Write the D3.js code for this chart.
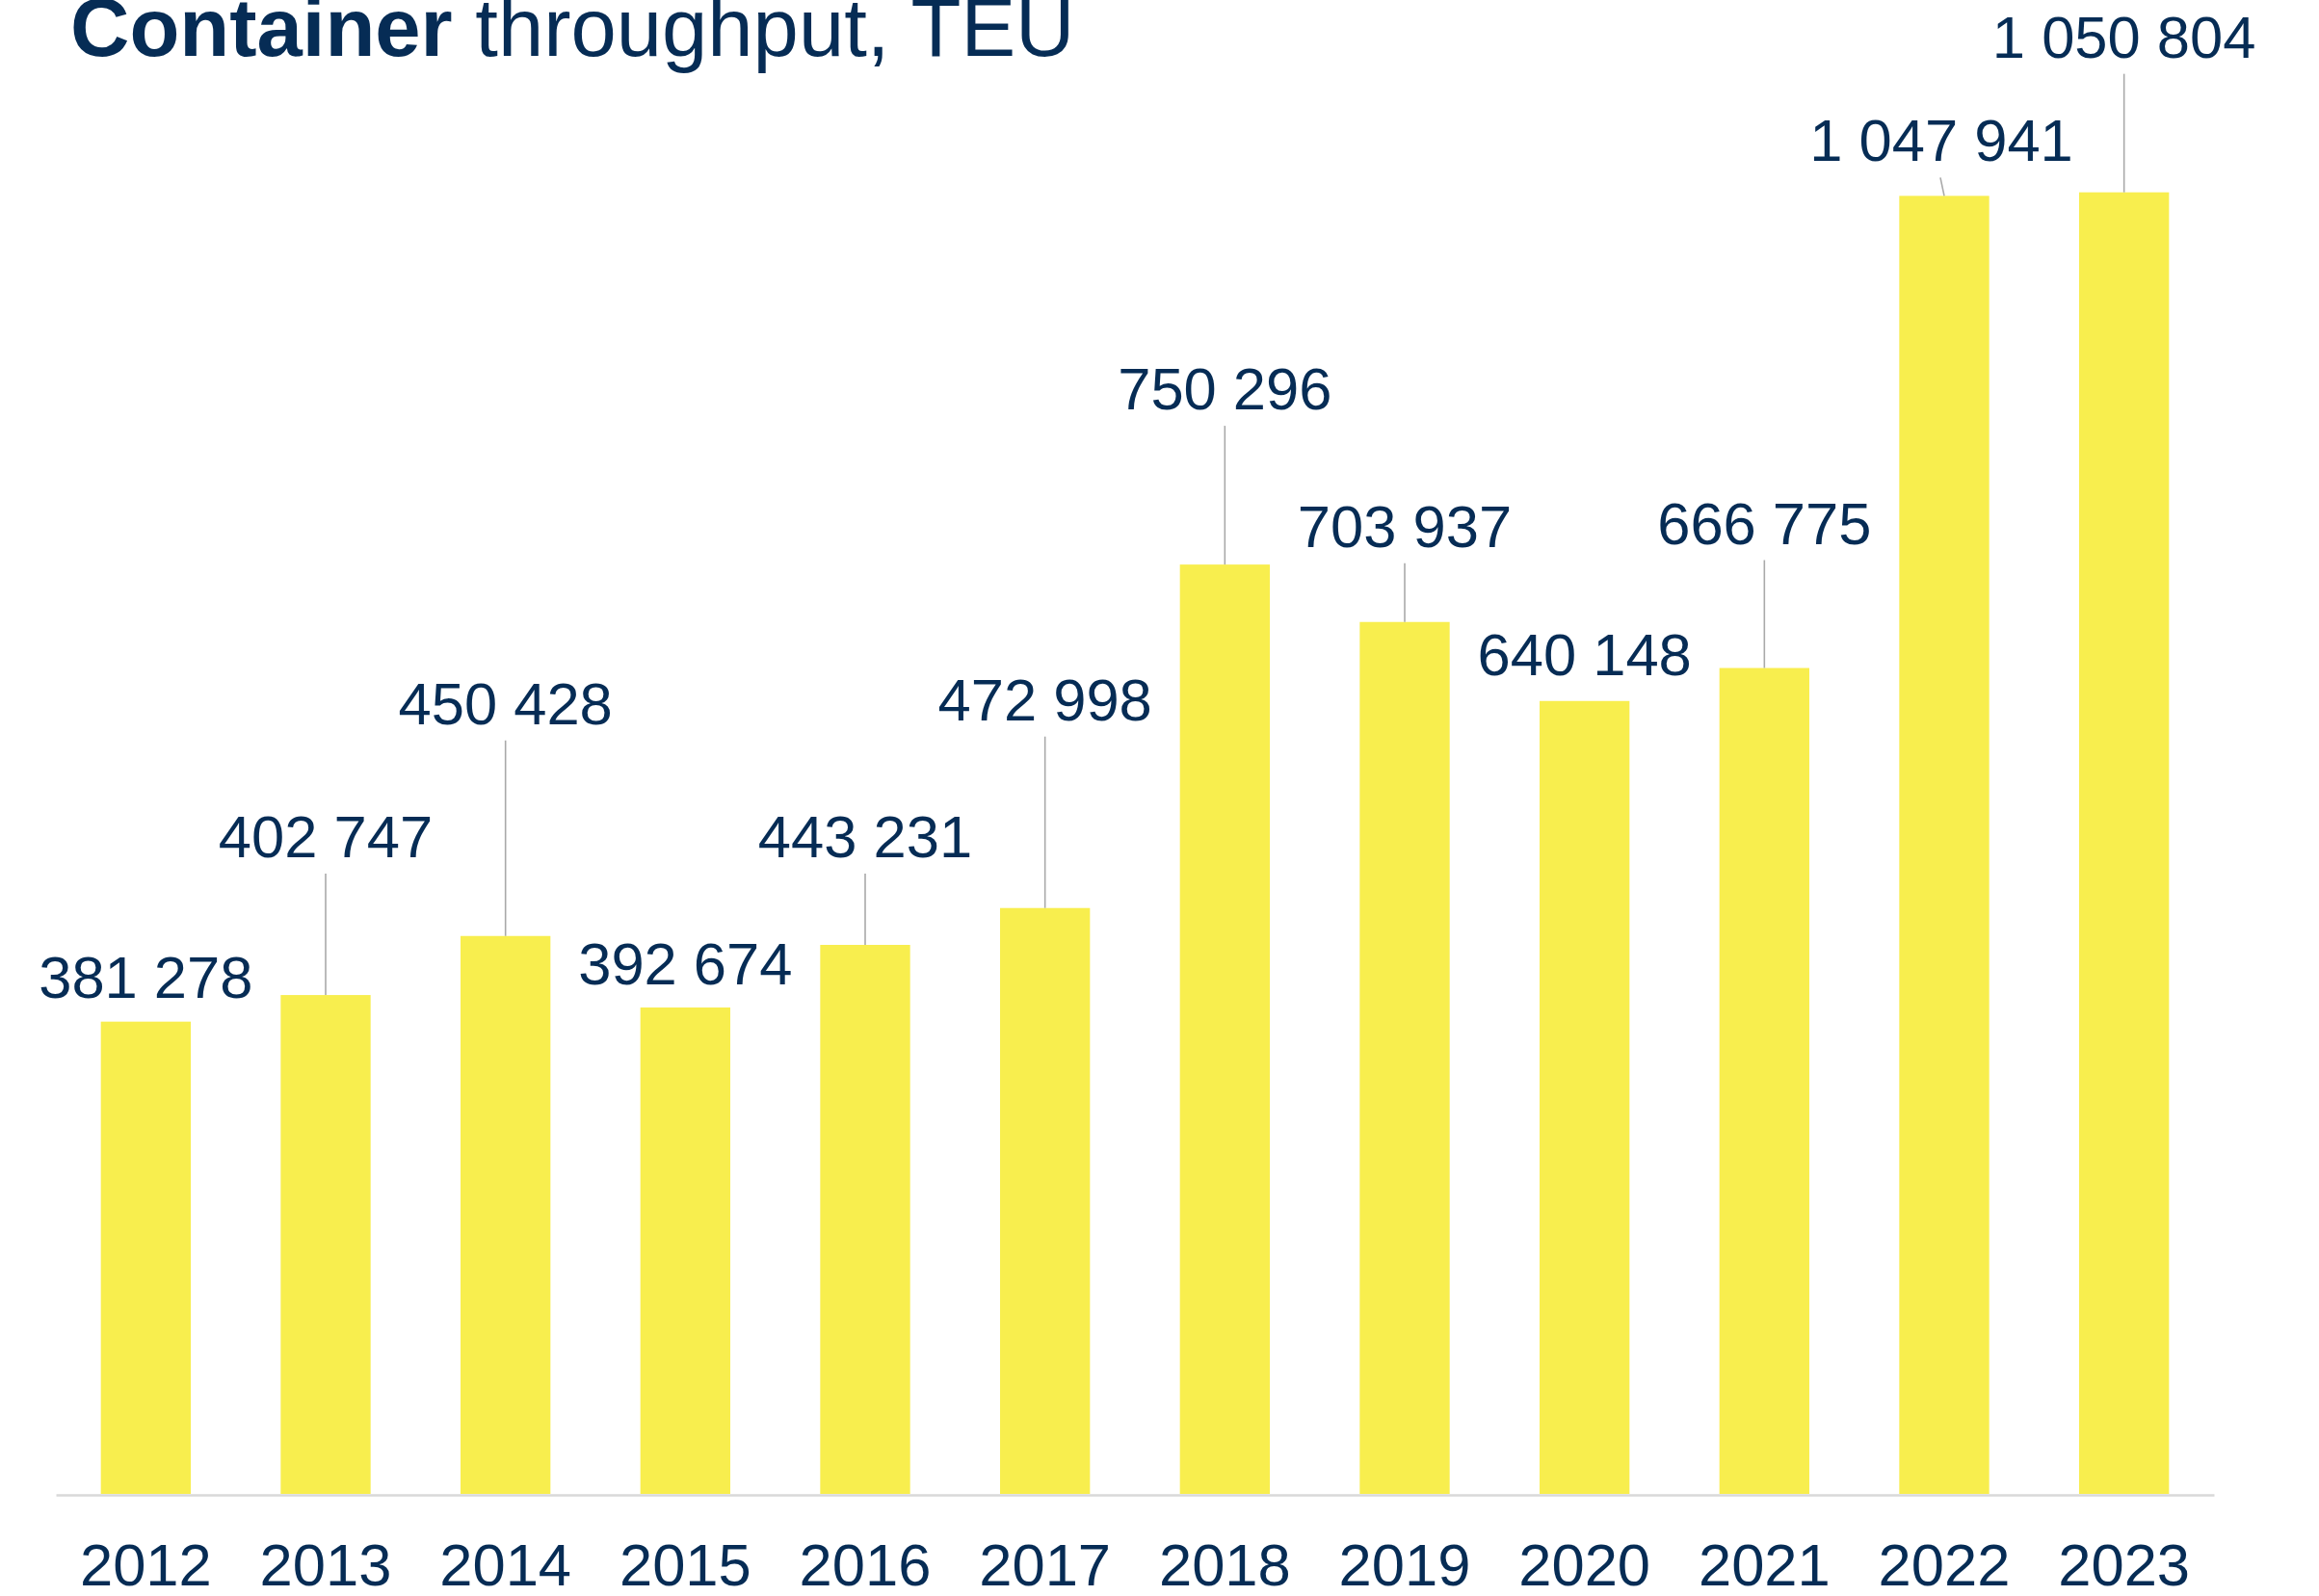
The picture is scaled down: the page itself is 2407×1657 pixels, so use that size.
<!DOCTYPE html>
<html>
<head>
<meta charset="utf-8">
<script src="https://cdn.jsdelivr.net/npm/d3@7"></script>
<style>
  html, body { margin: 0; padding: 0; background: #ffffff; }
  svg { display: block; }
</style>
</head>
<body>
<script>
// ---- data ----
const years = ["2012","2013","2014","2015","2016","2017","2018","2019","2020","2021","2022","2023"];
const teu = [381278, 402747, 450428, 392674, 443231, 472998, 750296, 703937, 640148, 666775, 1047941, 1050804];
const titleBold = "Container";
const titleRest = "throughput, TEU";

// ---- annotation layout (pixels above bar top for the label baseline; leader when raised) ----
const labelLift = [25, 143, 220, 24, 91, 195, 161, 78, 27, 129, 36, 140];
const labelShift = [0, 0, 0, 0, 0, 0, 0, 0, 0, 0, -3, 0];

const W = 2407, H = 1657;
const navy = "#062c55";
const yellow = "#f8ee4e";
const font = "'Liberation Sans', Arial, sans-serif";

const svg = d3.select("body").append("svg").attr("width", W).attr("height", H);

const x = d3.scaleBand().domain(years).range([58, 2298]).paddingInner(0.5).paddingOuter(0.25);
const y = d3.scaleLinear().domain([0, 1200000]).range([1551, 1551 - 1200000 * 0.001286]);

const fmt = v => d3.format(",")(v).replace(/,/g, " ");

// bars
svg.append("g").selectAll("rect").data(years).join("rect")
  .attr("x", d => x(d))
  .attr("width", x.bandwidth())
  .attr("y", (d, i) => y(teu[i]))
  .attr("height", (d, i) => y(0) - y(teu[i]))
  .attr("fill", yellow);

// axis
const axis = svg.append("g").attr("transform", `translate(0,${y(0) + 1})`)
  .call(d3.axisBottom(x).tickSize(0).tickSizeOuter(0));
axis.select(".domain").attr("stroke", "#d9d9d9").attr("stroke-width", 2.5);
axis.selectAll("text")
  .attr("y", 94).attr("dy", 0)
  .attr("fill", navy)
  .style("font-family", font)
  .style("font-size", "61.5px");

// leaders
const labels = svg.append("g");
years.forEach((yr, i) => {
  const cx = x(yr) + x.bandwidth() / 2;
  const top = y(teu[i]);
  const base = top - labelLift[i];
  if (labelLift[i] > 40) {
    labels.append("line")
      .attr("x1", cx + (labelShift[i] ? labelShift[i] - 1 : 0)).attr("y1", base + 17)
      .attr("x2", cx).attr("y2", top)
      .attr("stroke", "#a9a9a9").attr("stroke-width", 1.6);
  } else if (labelLift[i] > 30) {
    labels.append("line")
      .attr("x1", cx + labelShift[i] - 1).attr("y1", base + 17)
      .attr("x2", cx).attr("y2", top)
      .attr("stroke", "#a9a9a9").attr("stroke-width", 1.6);
  }
  labels.append("text")
    .attr("x", cx + labelShift[i]).attr("y", base)
    .attr("text-anchor", "middle")
    .attr("fill", navy)
    .style("font-family", font)
    .style("font-size", "61.5px")
    .text(fmt(teu[i]));
});

// title
const t = svg.append("text").attr("x", 73).attr("y", 58)
  .attr("fill", navy).style("font-family", font).style("font-size", "85px");
t.append("tspan").attr("font-weight", "bold").text(titleBold);
t.append("tspan").attr("font-weight", "normal").text(" " + titleRest);
</script>
</body>
</html>
